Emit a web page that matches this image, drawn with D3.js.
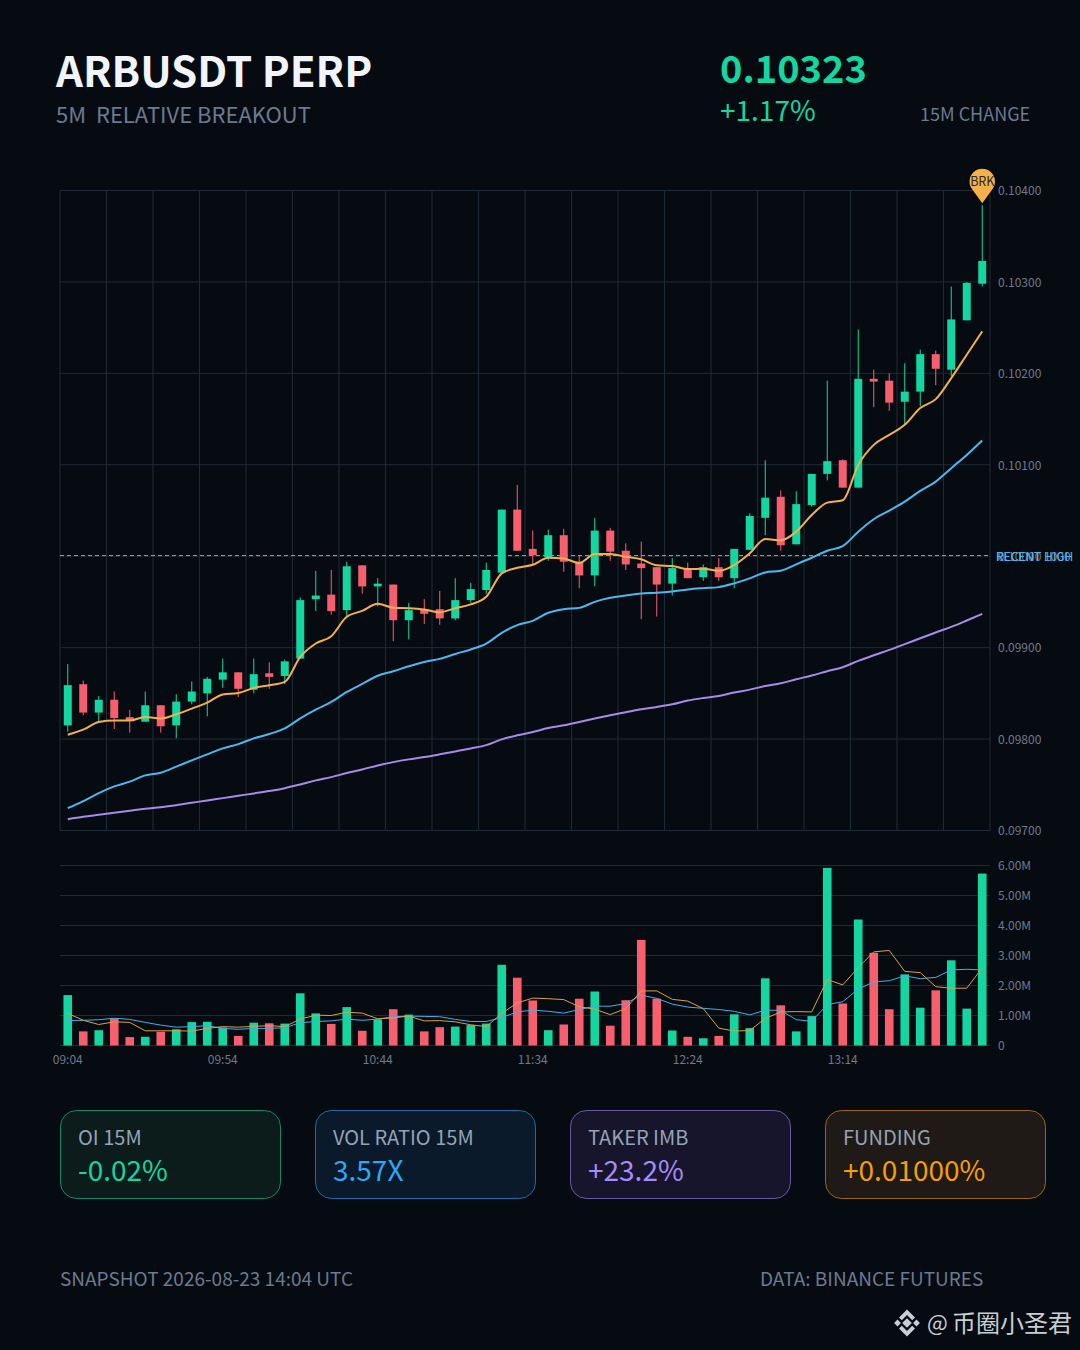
<!DOCTYPE html>
<html>
<head>
<meta charset="utf-8">
<script src="https://cdnjs.cloudflare.com/ajax/libs/d3/7.8.5/d3.min.js"></script>
<style>
html, body { margin: 0; padding: 0; background: #060b12; }
svg { display: block; }
text { font-family: "Noto Sans CJK SC", "Noto Sans", sans-serif; }
</style>
</head>
<body>
<svg id="chart" width="1080" height="1350"></svg>
<script>
// candles
const opens = [0.09815,0.09860,0.09829,0.09843,0.09824,0.09819,0.09837,0.09815,0.09841,0.09850,0.09865,0.09873,0.09854,0.09872,0.09869,0.09888,0.09953,0.09958,0.09941,0.09990,0.09967,0.09969,0.09930,0.09942,0.09942,0.09932,0.09952,0.09963,0.09982,0.10051,0.10008,0.09999,0.10023,0.09994,0.09979,0.10028,0.10006,0.09992,0.09988,0.09970,0.09986,0.09977,0.09988,0.09976,0.10007,0.10042,0.10065,0.10013,0.10056,0.10090,0.10105,0.10075,0.10194,0.10192,0.10169,0.10180,0.10221,0.10204,0.10258,0.10298];
const highs = [0.09882,0.09864,0.09847,0.09852,0.09832,0.09852,0.09837,0.09849,0.09863,0.09868,0.09888,0.09873,0.09888,0.09884,0.09887,0.09955,0.09984,0.09985,0.09994,0.09990,0.09976,0.09969,0.09949,0.09953,0.09962,0.09976,0.09971,0.09993,0.10051,0.10078,0.10028,0.10029,0.10030,0.10001,0.10042,0.10031,0.10014,0.10016,0.09988,0.09998,0.09993,0.09991,0.09998,0.10008,0.10047,0.10105,0.10072,0.10071,0.10090,0.10192,0.10106,0.10248,0.10204,0.10200,0.10211,0.10226,0.10225,0.10295,0.10300,0.10384];
const lows = [0.09808,0.09826,0.09819,0.09811,0.09807,0.09819,0.09807,0.09801,0.09838,0.09825,0.09856,0.09846,0.09850,0.09855,0.09860,0.09888,0.09940,0.09936,0.09932,0.09959,0.09945,0.09907,0.09909,0.09926,0.09925,0.09930,0.09949,0.09959,0.09982,0.10006,0.09990,0.09995,0.09983,0.09965,0.09967,0.09995,0.09985,0.09931,0.09934,0.09957,0.09976,0.09973,0.09973,0.09965,0.10007,0.10023,0.10006,0.10013,0.10054,0.10083,0.10075,0.10075,0.10163,0.10159,0.10144,0.10164,0.10187,0.10197,0.10258,0.10295];
const closes = [0.09859,0.09829,0.09843,0.09823,0.09820,0.09837,0.09814,0.09841,0.09852,0.09866,0.09873,0.09855,0.09871,0.09868,0.09885,0.09952,0.09957,0.09940,0.09989,0.09967,0.09970,0.09930,0.09941,0.09937,0.09932,0.09952,0.09964,0.09985,0.10051,0.10006,0.10001,0.10023,0.09994,0.09979,0.10028,0.10005,0.09991,0.09987,0.09969,0.09987,0.09976,0.09988,0.09977,0.10008,0.10044,0.10064,0.10012,0.10057,0.10090,0.10104,0.10075,0.10194,0.10191,0.10168,0.10180,0.10221,0.10205,0.10259,0.10299,0.10323];

// moving averages on the price panel
const emaFast = [0.098048,0.098103,0.098186,0.098202,0.098202,0.098241,0.098224,0.098271,0.098333,0.098399,0.098487,0.098504,0.098559,0.098588,0.098625,0.098898,0.099045,0.099125,0.099337,0.099402,0.099479,0.099437,0.099432,0.099418,0.099388,0.099432,0.099473,0.099556,0.099812,0.099873,0.099906,0.099983,0.099976,0.099925,0.100024,0.100024,0.099994,0.099966,0.099900,0.099892,0.099859,0.099863,0.099841,0.099903,0.100031,0.100188,0.100174,0.100268,0.100451,0.100586,0.100612,0.100999,0.101218,0.101327,0.101437,0.101620,0.101718,0.101948,0.102204,0.102459];
const emaMid = [0.097244,0.097321,0.097409,0.097482,0.097534,0.097603,0.097632,0.097698,0.097767,0.097833,0.097898,0.097945,0.098008,0.098055,0.098117,0.098227,0.098322,0.098406,0.098515,0.098603,0.098693,0.098742,0.098797,0.098844,0.098877,0.098931,0.098980,0.099045,0.099161,0.099246,0.099293,0.099381,0.099421,0.099435,0.099501,0.099545,0.099571,0.099593,0.099600,0.099615,0.099637,0.099651,0.099662,0.099703,0.099757,0.099823,0.099841,0.099911,0.099983,0.100060,0.100111,0.100268,0.100404,0.100498,0.100597,0.100714,0.100816,0.100962,0.101108,0.101265];
const emaSlow = [0.097124,0.097150,0.097172,0.097194,0.097216,0.097238,0.097255,0.097277,0.097303,0.097329,0.097354,0.097380,0.097405,0.097431,0.097463,0.097504,0.097548,0.097584,0.097628,0.097668,0.097712,0.097748,0.097778,0.097803,0.097833,0.097865,0.097898,0.097934,0.097997,0.098041,0.098077,0.098121,0.098150,0.098186,0.098224,0.098260,0.098293,0.098326,0.098351,0.098380,0.098421,0.098449,0.098471,0.098509,0.098541,0.098581,0.098610,0.098654,0.098695,0.098742,0.098786,0.098855,0.098917,0.098975,0.099038,0.099103,0.099166,0.099227,0.099297,0.099370];

// volume in millions, with its two averages
const volumes = [1.68,0.47,0.51,0.90,0.28,0.29,0.46,0.54,0.78,0.79,0.60,0.32,0.76,0.74,0.73,1.74,1.07,0.72,1.28,0.49,0.87,1.21,1.03,0.47,0.61,0.63,0.68,0.73,2.69,2.26,1.50,0.51,0.70,1.56,1.80,0.66,1.51,3.52,1.56,0.50,0.29,0.24,0.32,1.04,0.58,2.24,1.34,0.47,0.98,5.92,1.40,4.20,3.09,1.21,2.37,1.26,1.84,2.84,1.23,5.73];
const volFast = [1.07,0.84,0.70,0.79,0.77,0.49,0.49,0.49,0.48,0.57,0.63,0.61,0.64,0.66,0.63,0.88,1.01,1.00,1.11,1.08,0.89,0.92,0.98,0.82,0.83,0.79,0.69,0.63,1.07,1.42,1.58,1.56,1.53,1.29,1.21,1.03,1.23,1.82,1.82,1.54,1.48,1.23,0.58,0.48,0.50,0.90,1.12,1.13,1.12,2.20,2.02,2.60,3.12,3.17,2.47,2.43,1.96,1.91,1.91,2.59];
const volSlow = [0.83,0.84,0.86,0.91,0.87,0.77,0.68,0.61,0.63,0.66,0.57,0.54,0.57,0.57,0.59,0.76,0.80,0.82,0.88,0.84,0.88,0.96,0.98,0.97,0.96,0.87,0.80,0.80,0.93,1.12,1.18,1.14,1.08,1.20,1.31,1.31,1.40,1.68,1.57,1.38,1.28,1.24,1.20,1.14,1.02,1.18,1.17,0.86,0.81,1.36,1.46,1.88,2.12,2.16,2.32,2.23,2.27,2.52,2.54,2.52];

const priceTicks = [0.097,0.098,0.099,0.100,0.101,0.102,0.103,0.104];
const volTicks = [0,1,2,3,4,5,6];
const timeTicks = [0,10,20,30,40,50];
const timeLabels = ["09:04","09:54","10:44","11:34","12:24","13:14"];
const recentHigh = 0.100007;

const cardLabels = ["OI 15M","VOL RATIO 15M","TAKER IMB","FUNDING"];
const cardValues = ["-0.02%","3.57X","+23.2%","+0.01000%"];
const cardColors = ["#14d6a0","#2ea6f5","#a78bfa","#f59e0b"];
const cardFills = ["#0b1c1b","#0a1a2a","#17152c","#1f1a15"];

const green = "#14d6a0";
const red = "#f85f6e";
const gridColor = "#1f2a37";
const axisText = "#6f7a8a";
const mutedText = "#6b7a8f";

const svg = d3.select("#chart");
svg.append("rect").attr("width", 1080).attr("height", 1350).attr("fill", "#060b12");

const idx = d3.range(closes.length);

const x = d3.scaleBand().domain(idx).range([60, 990]);
const y = d3.scaleLinear().domain([0.097, 0.104]).range([830.5, 190.5]);
const yVol = d3.scaleLinear().domain([0, 6]).range([1045.5, 865.5]);
const cx = i => x(i) + x.bandwidth() / 2;

// header
function label(txt, px, py, size, fill, weight) {
	return svg.append("text").attr("x", px).attr("y", py)
	.attr("font-size", size).attr("fill", fill)
	.attr("font-weight", weight || 400)
	.style("white-space", "pre")
	.text(txt);
}
label("ARBUSDT PERP", 56, 87, 42, "#f1f5f9", 700);
label("5M  RELATIVE BREAKOUT", 56, 123, 22, mutedText);
label("0.10323", 720, 83, 38, green, 700);
label("+1.17%", 720, 121, 28, green);
label("15M CHANGE", 920, 120.5, 18, mutedText);

// price grid
const priceGrid = svg.append("g");
priceGrid.selectAll("line.h").data(priceTicks).enter().append("line")
.attr("x1", 60).attr("x2", 990)
.attr("y1", d => y(d)).attr("y2", d => y(d))
.attr("stroke", gridColor);
priceGrid.selectAll("line.v").data(d3.range(0, 61, 3)).enter().append("line")
.attr("x1", d => 60 + x.step() * d).attr("x2", d => 60 + x.step() * d)
.attr("y1", y(0.104)).attr("y2", y(0.097))
.attr("stroke", gridColor);

// price axis
const priceAxis = svg.append("g")
.attr("transform", "translate(990,0.5)")
.call(d3.axisRight(y).tickValues(priceTicks).tickSize(0).tickPadding(8).tickFormat(d3.format(".5f")));
priceAxis.select(".domain").remove();
priceAxis.selectAll("text").attr("font-size", 12).attr("fill", axisText).style("font-family", null);

// recent high line
svg.append("line")
.attr("x1", 60).attr("x2", 990)
.attr("y1", y(recentHigh)).attr("y2", y(recentHigh))
.attr("stroke", "#98a3b3").attr("stroke-dasharray", "4,3");
label("RECENT 1000", 996, y(recentHigh) + 5, 12, "#7f93ad");
label("RECENT HIGH", 996, y(recentHigh) + 5, 12, "#4db8f0");

// wicks then bodies
const candles = svg.append("g");
candles.selectAll("line").data(idx).enter().append("line")
.attr("x1", cx).attr("x2", cx)
.attr("y1", i => y(highs[i])).attr("y2", i => y(lows[i]))
.attr("stroke", i => closes[i] >= opens[i] ? green : red);
candles.selectAll("rect").data(idx).enter().append("rect")
.attr("x", i => cx(i) - 4)
.attr("width", 8)
.attr("y", i => y(Math.max(opens[i], closes[i])))
.attr("height", i => Math.abs(y(opens[i]) - y(closes[i])))
.attr("fill", i => closes[i] >= opens[i] ? green : red);

// averages
const priceLine = d3.line().x((d, i) => cx(i)).y(d => y(d)).curve(d3.curveMonotoneX);
[[emaSlow, "#a78bea"], [emaMid, "#4db8f0"], [emaFast, "#f5b04a"]].forEach(s => {
	svg.append("path").attr("d", priceLine(s[0]))
	.attr("fill", "none").attr("stroke", s[1]).attr("stroke-width", 2);
});

// BRK pin, tip sits just above the last high
const tipX = cx(59), tipY = y(highs[59]) - 2;
const pinR = 12.7, pinH = 21.6;
const ang = Math.acos(pinR / pinH);
const base = Math.PI / 2;
const pinPath = d3.path();
pinPath.moveTo(tipX, tipY);
pinPath.lineTo(tipX + pinR * Math.cos(base - ang), tipY - pinH + pinR * Math.sin(base - ang));
pinPath.arc(tipX, tipY - pinH, pinR, base - ang, base + ang, true);
pinPath.closePath();
svg.append("path").attr("d", pinPath.toString()).attr("fill", "#f5b04a");
svg.append("text").attr("x", tipX).attr("y", tipY - pinH + 4.5)
.attr("text-anchor", "middle").attr("font-size", 12.5).attr("fill", "#2a2a2a").text("BRK");

// volume panel
svg.append("g").selectAll("line").data(volTicks).enter().append("line")
.attr("x1", 60).attr("x2", 990)
.attr("y1", d => yVol(d)).attr("y2", d => yVol(d))
.attr("stroke", gridColor);

const volAxis = svg.append("g")
.attr("transform", "translate(990,0.5)")
.call(d3.axisRight(yVol).tickValues(volTicks).tickSize(0).tickPadding(8)
	.tickFormat(d => d === 0 ? "0" : d.toFixed(2) + "M"));
volAxis.select(".domain").remove();
volAxis.selectAll("text").attr("font-size", 12).attr("fill", axisText).style("font-family", null);

svg.append("g").selectAll("rect").data(idx).enter().append("rect")
.attr("x", i => cx(i) - 4.3)
.attr("width", 8.6)
.attr("y", i => yVol(volumes[i]))
.attr("height", i => yVol(0) - yVol(volumes[i]))
.attr("fill", i => closes[i] >= opens[i] ? green : red);

const volLine = d3.line().x((d, i) => cx(i)).y(d => yVol(d));
svg.append("path").attr("d", volLine(volSlow)).attr("fill", "none").attr("stroke", "#45aee6").attr("stroke-width", 1);
svg.append("path").attr("d", volLine(volFast)).attr("fill", "none").attr("stroke", "#dea040").attr("stroke-width", 1);

// time labels
const timeAxis = svg.append("g")
.attr("transform", "translate(0,1045)")
.call(d3.axisBottom(x).tickValues(timeTicks).tickSize(0).tickPadding(10)
	.tickFormat(i => timeLabels[timeTicks.indexOf(i)]));
timeAxis.select(".domain").remove();
timeAxis.selectAll("text").attr("font-size", 12).attr("fill", axisText).style("font-family", null);

// metric cards
const cards = svg.append("g").selectAll("g").data(d3.range(4)).enter().append("g")
.attr("transform", i => "translate(" + (60.5 + 255 * i) + ",1110.5)");
cards.append("rect")
.attr("width", 220).attr("height", 88).attr("rx", 16)
.attr("fill", i => cardFills[i])
.attr("stroke", i => cardColors[i]).attr("stroke-opacity", 0.6);
cards.append("text").attr("x", 17.5).attr("y", 34.5)
.attr("font-size", 20).attr("fill", "#94a3b8").text(i => cardLabels[i]);
cards.append("text").attr("x", 17.5).attr("y", 70.5)
.attr("font-size", 28).attr("fill", i => cardColors[i]).text(i => cardValues[i]);

// footer
label("SNAPSHOT 2026-08-23 14:04 UTC", 60, 1286, 19, mutedText);
label("DATA: BINANCE FUTURES", 760, 1286, 19, mutedText);

// watermark
const mark = svg.append("g").attr("transform", "translate(907,1323)").attr("fill", "#c9ced3");
[[0, 0, 3.4], [-9.5, 0, 2.4], [9.5, 0, 2.4]].forEach(d => {
	mark.append("rect").attr("x", d[0] - d[2]).attr("y", d[1] - d[2])
	.attr("width", d[2] * 2).attr("height", d[2] * 2)
	.attr("transform", "rotate(45 " + d[0] + " " + d[1] + ")");
});
mark.append("path").attr("d", "M0,-13.5 L8,-5.5 L5.2,-2.7 L0,-7.9 L-5.2,-2.7 L-8,-5.5 Z");
mark.append("path").attr("d", "M0,13.5 L8,5.5 L5.2,2.7 L0,7.9 L-5.2,2.7 L-8,5.5 Z");
label("@", 927, 1331, 22, "#c9ced3");
label("币圈小圣君", 952, 1332, 24, "#c9ced3");
</script>
</body>
</html>
